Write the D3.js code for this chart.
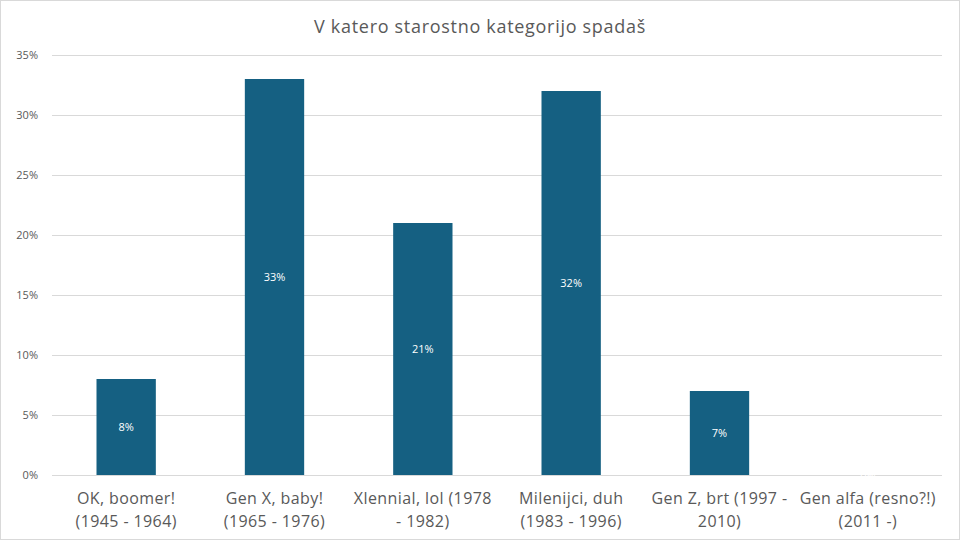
<!DOCTYPE html>
<html>
<head>
<meta charset="utf-8">
<script src="https://cdn.jsdelivr.net/npm/d3@7"></script>
<style>
  body { margin: 0; background: #fff; }
  text { font-family: "Open Sans", Lato, sans-serif; }
</style>
</head>
<body>
<div id="chart-area"></div>
<script>
// chart values
var title = "V katero starostno kategorijo spadaš";
var categories = [
  "OK, boomer!\n(1945 - 1964)",
  "Gen X, baby!\n(1965 - 1976)",
  "Xlennial, lol (1978\n- 1982)",
  "Milenijci, duh\n(1983 - 1996)",
  "Gen Z, brt (1997 -\n2010)",
  "Gen alfa (resno?!)\n(2011 -)"
];
var values = [0.08, 0.33, 0.21, 0.32, 0.07, 0];
var yTicks = [0, 0.05, 0.10, 0.15, 0.20, 0.25, 0.30, 0.35];

var width = 960, height = 540;
var margin = {top: 55, right: 18, bottom: 65, left: 52};

var svg = d3.select("#chart-area").append("svg")
    .attr("width", width)
    .attr("height", height);

// outer chart border
svg.append("rect")
    .attr("x", 0.5).attr("y", 0.5)
    .attr("width", width - 1).attr("height", height - 1)
    .attr("fill", "#fff")
    .attr("stroke", "#d9d9d9");

var x = d3.scaleBand()
    .domain(categories)
    .range([margin.left, width - margin.right])
    .paddingInner(0.6)
    .paddingOuter(0.3);

var y = d3.scaleLinear()
    .domain([0, 0.35])
    .range([height - margin.bottom, margin.top]);

// gridlines + y labels
var yAxis = svg.append("g")
    .attr("transform", "translate(" + margin.left + ",0)")
    .call(d3.axisLeft(y)
        .tickValues(yTicks)
        .tickFormat(d3.format(".0%"))
        .tickSize(-(width - margin.left - margin.right))
        .tickPadding(14));
yAxis.select(".domain").remove();
yAxis.selectAll(".tick line").attr("stroke", "#d9d9d9");
yAxis.selectAll(".tick text")
    .attr("fill", "#595959")
    .style("font-family", "'Open Sans', sans-serif")
    .style("font-size", "11px");

// bars
svg.selectAll("rect.bar")
    .data(values)
    .enter().append("rect")
    .attr("class", "bar")
    .attr("x", function(d, i) { return x(categories[i]); })
    .attr("y", function(d) { return y(d); })
    .attr("width", x.bandwidth())
    .attr("height", function(d) { return y(0) - y(d); })
    .attr("fill", "#156082");

// data labels
svg.selectAll("text.val")
    .data(values)
    .enter().append("text")
    .attr("class", "val")
    .attr("x", function(d, i) { return x(categories[i]) + x.bandwidth() / 2; })
    .attr("y", function(d) { return (y(d) + y(0)) / 2 + 4; })
    .attr("text-anchor", "middle")
    .attr("fill", "#fff")
    .style("font-size", "11px")
    .text(function(d) { return d3.format(".0%")(d); });

// category labels
var xLab = svg.selectAll("text.cat")
    .data(categories)
    .enter().append("text")
    .attr("class", "cat")
    .attr("x", function(d) { return x(d) + x.bandwidth() / 2; })
    .attr("y", height - margin.bottom + 29)
    .attr("text-anchor", "middle")
    .attr("fill", "#595959")
    .style("font-size", "16px")
    .style("letter-spacing", "0.4px");
xLab.selectAll("tspan")
    .data(function(d) { return d.split("\n"); })
    .enter().append("tspan")
    .attr("x", function() { return d3.select(this.parentNode).attr("x"); })
    .attr("dy", function(d, i) { return i === 0 ? 0 : 23; })
    .text(function(d) { return d; });

// title
svg.append("text")
    .attr("x", width / 2)
    .attr("y", 33)
    .attr("text-anchor", "middle")
    .attr("fill", "#595959")
    .style("font-size", "18px")
    .style("letter-spacing", "0.7px")
    .text(title);
</script>
</body>
</html>
